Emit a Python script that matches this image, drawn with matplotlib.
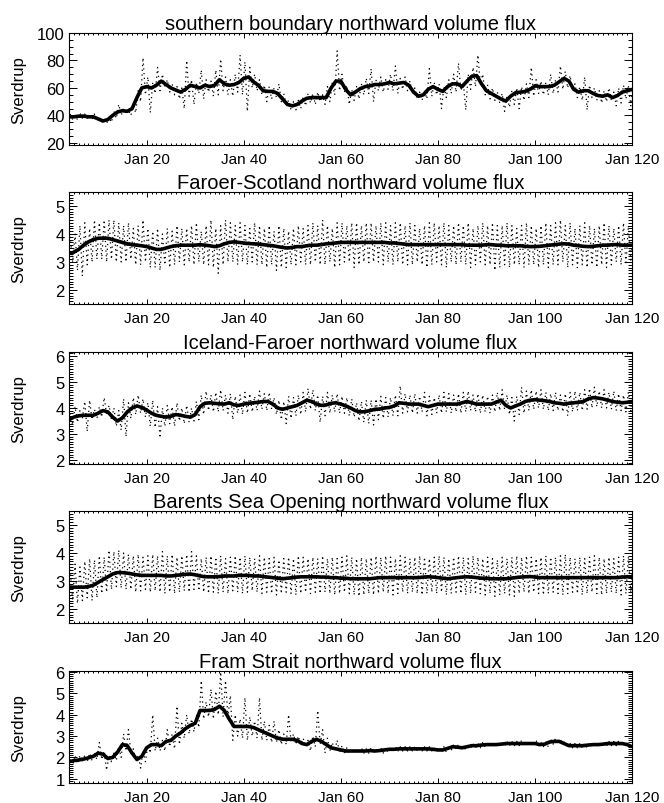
import numpy as np
import matplotlib
matplotlib.use('Agg')
import matplotlib.pyplot as plt
from matplotlib.ticker import MultipleLocator

plt.rcParams['font.family'] = ['Liberation Sans', 'DejaVu Sans']

# yearly values from year 4 to year 120
first_year = 4

titles = ['southern boundary northward volume flux',
          'Faroer-Scotland northward volume flux',
          'Iceland-Faroer northward volume flux',
          'Barents Sea Opening northward volume flux',
          'Fram Strait northward volume flux']

xtick_vals = [20, 40, 60, 80, 100, 120]
xtick_labels = ['Jan 20', 'Jan 40', 'Jan 60', 'Jan 80', 'Jan 100', 'Jan 120']

# --- southern boundary
sb_smooth = [39, 39, 39.5, 39.5, 39, 39, 37.5, 36, 37, 40,
             42.5, 43.5, 43, 45, 53, 60, 61, 60, 62, 65,
             62.5, 60, 58.5, 57, 59, 62, 61, 60, 62, 61,
             62, 66, 63, 62, 62.5, 64, 67, 68, 64.5, 62,
             58, 57.5, 57.5, 56, 52, 48, 47, 48, 50.5, 52.5,
             53, 53, 53, 53, 60, 65, 65, 59, 55, 57,
             59.5, 61, 61.5, 62.5, 62.5, 63, 64, 63, 63.5, 64,
             62, 57, 54, 55, 59, 61, 59, 57.5, 61, 63,
             63, 61, 65, 68.5, 69, 63, 58, 56, 54, 52,
             50.5, 54, 56.5, 57, 57.5, 59, 61.5, 61, 61, 61,
             62, 64.5, 67, 65, 59, 57, 58, 58, 56, 54.5,
             54, 55, 53, 54.5, 57, 58, 59]
sb_hi = [41, 40, 42, 41, 40, 41, 39, 37, 39, 43,
         48, 45, 44, 47, 58, 82, 68, 64, 75, 70,
         66, 63, 61, 60, 80, 66, 64, 73, 66, 65,
         73, 81, 68, 66, 70, 84, 79, 75, 70, 66,
         62, 61, 60, 63, 56, 51, 50, 51, 54, 56,
         56, 57, 55, 61, 64, 87, 70, 62, 59, 61,
         63, 67, 74, 66, 68, 66, 70, 76, 67, 68,
         65, 60, 57, 58, 74, 64, 63, 61, 66, 70,
         78, 64, 70, 75, 84, 70, 62, 60, 57, 56,
         54, 58, 60, 61, 63, 75, 66, 65, 64, 70,
         66, 76, 72, 69, 63, 61, 68, 62, 60, 58,
         58, 60, 57, 60, 62, 62, 63]
sb_lo = [37, 37, 38, 38, 37, 38, 35, 34, 35, 38,
         40, 41, 40, 42, 50, 55, 42, 56, 58, 60,
         57, 55, 52, 45, 54, 48, 56, 52, 57, 54,
         55, 58, 55, 54, 57, 55, 43, 60, 58, 55,
         50, 52, 53, 50, 48, 44, 44, 45, 47, 49,
         48, 50, 48, 50, 55, 58, 57, 48, 51, 52,
         55, 56, 50, 58, 57, 59, 58, 56, 59, 58,
         56, 52, 51, 52, 54, 55, 45, 53, 56, 57,
         58, 44, 59, 61, 63, 55, 52, 51, 49, 43,
         46, 48, 45, 51, 53, 54, 56, 55, 55, 56,
         57, 59, 60, 58, 53, 51, 44, 53, 51, 49,
         50, 51, 47, 49, 52, 47, 55]

# --- Faroer-Scotland
fs_smooth = [3.3, 3.35, 3.45, 3.6, 3.72, 3.8, 3.85, 3.85, 3.85, 3.8,
             3.75, 3.7, 3.65, 3.62, 3.6, 3.58, 3.55, 3.5, 3.45, 3.45,
             3.5, 3.55, 3.58, 3.6, 3.6, 3.6, 3.6, 3.62, 3.6, 3.58,
             3.55, 3.58, 3.65, 3.7, 3.72, 3.7, 3.68, 3.66, 3.65, 3.64,
             3.62, 3.6, 3.58, 3.55, 3.52, 3.5, 3.52, 3.55, 3.55, 3.58,
             3.6, 3.6, 3.62, 3.65, 3.66, 3.68, 3.7, 3.7, 3.7, 3.7,
             3.7, 3.7, 3.7, 3.7, 3.7, 3.7, 3.68, 3.68, 3.66, 3.64,
             3.62, 3.62, 3.62, 3.62, 3.62, 3.62, 3.62, 3.62, 3.62, 3.62,
             3.62, 3.62, 3.6, 3.6, 3.6, 3.6, 3.62, 3.62, 3.6, 3.6,
             3.58, 3.58, 3.58, 3.58, 3.56, 3.55, 3.55, 3.56, 3.58, 3.6,
             3.62, 3.64, 3.65, 3.64, 3.6, 3.58, 3.56, 3.55, 3.56, 3.58,
             3.6, 3.6, 3.62, 3.62, 3.6, 3.6, 3.6]
fs_hi = [3.9, 4.0, 4.3, 4.4, 4.2, 4.5, 4.4, 4.5, 4.5, 4.5,
         4.4, 4.3, 4.4, 4.2, 4.3, 4.5, 4.2, 4.1, 4.2, 4.0,
         4.2, 4.1, 4.3, 4.2, 4.2, 4.3, 4.4, 4.1, 4.3, 4.5,
         4.2, 4.3, 4.5, 4.4, 4.3, 4.4, 4.3, 4.2, 4.4, 4.3,
         4.2, 4.3, 4.1, 4.3, 4.2, 4.1, 4.2, 4.3, 4.2, 4.3,
         4.4, 4.3, 4.5, 4.3, 4.2, 4.4, 4.4, 4.3, 4.4, 4.4,
         4.3, 4.4, 4.4, 4.3, 4.4, 4.4, 4.3, 4.4, 4.4, 4.3,
         4.4, 4.3, 4.2, 4.3, 4.4, 4.4, 4.3, 4.4, 4.3, 4.3,
         4.4, 4.3, 4.4, 4.2, 4.3, 4.4, 4.3, 4.4, 4.3, 4.3,
         4.4, 4.3, 4.2, 4.3, 4.4, 4.3, 4.2, 4.3, 4.4, 4.3,
         4.4, 4.5, 4.3, 4.4, 4.2, 4.3, 4.4, 4.3, 4.2, 4.3,
         4.4, 4.3, 4.2, 4.3, 4.4, 4.3, 4.2]
fs_lo = [3.0, 2.7, 2.5, 2.9, 3.0, 3.1, 3.1, 3.0, 3.1, 3.0,
         3.0, 3.0, 3.1, 2.9, 2.9, 3.0, 2.8, 2.8, 2.7, 2.9,
         2.8, 2.9, 3.0, 2.9, 3.0, 2.9, 3.0, 2.9, 2.9, 2.8,
         2.6, 2.9, 3.0, 3.0, 2.9, 3.0, 2.9, 3.0, 2.9, 2.9,
         2.8, 2.9, 2.7, 2.8, 2.8, 2.9, 2.9, 3.0, 2.9, 2.9,
         3.0, 2.9, 2.9, 3.0, 2.8, 2.9, 3.0, 3.0, 2.8, 2.9,
         3.0, 2.9, 3.0, 3.0, 2.9, 3.0, 2.9, 3.0, 2.9, 2.9,
         2.9, 3.0, 2.9, 2.8, 2.9, 3.0, 2.9, 2.8, 3.0, 2.9,
         3.0, 2.9, 2.8, 2.9, 3.0, 2.9, 2.9, 2.7, 2.8, 2.9,
         2.8, 2.9, 2.9, 2.8, 2.9, 2.9, 2.8, 2.9, 2.8, 2.9,
         2.9, 3.0, 2.8, 2.9, 2.8, 2.9, 2.8, 2.9, 2.8, 2.9,
         2.8, 2.9, 3.0, 2.9, 2.9, 3.0, 2.9]

# --- Iceland-Faroer
if_smooth = [3.55, 3.65, 3.7, 3.72, 3.72, 3.72, 3.8, 3.9, 3.85, 3.65,
             3.5, 3.62, 3.85, 4.0, 4.08, 4.02, 3.92, 3.8, 3.72, 3.68,
             3.65, 3.68, 3.75, 3.72, 3.68, 3.65, 3.75, 4.05, 4.18, 4.2,
             4.18, 4.16, 4.15, 4.2, 4.12, 4.1, 4.15, 4.18, 4.2, 4.22,
             4.25, 4.25, 4.15, 4.0, 3.95, 4.0, 4.05, 4.1, 4.2, 4.3,
             4.25, 4.15, 4.1, 4.12, 4.18, 4.2, 4.15, 4.08, 4.0, 3.9,
             3.85, 3.86, 3.9, 3.95, 3.96, 4.0, 4.02, 4.08, 4.2, 4.18,
             4.15, 4.15, 4.15, 4.1, 4.05, 4.1, 4.15, 4.15, 4.15, 4.15,
             4.15, 4.2, 4.25, 4.2, 4.15, 4.15, 4.15, 4.15, 4.22, 4.3,
             4.1, 4.0, 4.08, 4.15, 4.25, 4.3, 4.32, 4.3, 4.28, 4.25,
             4.2, 4.18, 4.15, 4.18, 4.2, 4.22, 4.25, 4.35, 4.4, 4.38,
             4.35, 4.3, 4.25, 4.22, 4.2, 4.22, 4.25]
if_hi = [3.8, 4.05, 3.9, 4.25, 4.3, 3.95, 4.05, 4.4, 4.1, 4.0,
         3.9, 4.35, 4.2, 4.4, 4.5, 4.35, 4.2, 4.3, 4.05, 4.0,
         4.1, 4.05, 4.2, 4.0, 4.1, 4.0, 4.25, 4.5, 4.65, 4.5,
         4.6, 4.7, 4.5, 4.55, 4.45, 4.5, 4.6, 4.55, 4.45, 4.65,
         4.55, 4.6, 4.4, 4.3, 4.25, 4.45, 4.4, 4.5, 4.6, 4.75,
         4.7, 4.5, 4.45, 4.6, 4.5, 4.55, 4.45, 4.4, 4.35, 4.2,
         4.25, 4.3, 4.3, 4.35, 4.45, 4.4, 4.4, 4.5, 4.85, 4.55,
         4.5, 4.55, 4.45, 4.6, 4.45, 4.4, 4.5, 4.6, 4.55, 4.5,
         4.55, 4.6, 4.65, 4.5, 4.55, 4.5, 4.45, 4.5, 4.6, 4.7,
         4.5, 4.4, 4.45, 4.8, 4.65, 4.7, 4.65, 4.7, 4.6, 4.55,
         4.6, 4.5, 4.55, 4.6, 4.65, 4.6, 4.7, 4.75, 4.8, 4.65,
         4.7, 4.6, 4.65, 4.55, 4.5, 4.6, 4.55]
if_lo = [3.35, 3.45, 3.6, 3.1, 3.55, 3.6, 3.65, 3.75, 3.55, 3.3,
         3.15, 2.9, 3.6, 3.75, 3.8, 3.65, 3.3, 3.25, 2.85, 3.3,
         3.4, 3.3, 3.5, 3.4, 3.45, 3.5, 3.55, 3.75, 3.9, 3.85,
         3.85, 3.9, 3.8, 3.55, 3.8, 3.75, 3.8, 3.85, 3.9, 3.95,
         3.9, 3.95, 3.75, 3.55, 3.4, 3.6, 3.7, 3.75, 3.85, 3.95,
         3.9, 3.45, 3.7, 3.8, 3.85, 3.8, 3.8, 3.7, 3.65, 3.5,
         3.45, 3.4, 3.35, 3.55, 3.6, 3.65, 3.7, 3.7, 3.8, 3.85,
         3.8, 3.8, 3.85, 3.7, 3.75, 3.8, 3.8, 3.85, 3.8, 3.85,
         3.8, 3.85, 3.9, 3.85, 3.8, 3.85, 3.8, 3.85, 3.9, 3.95,
         3.75, 3.5, 3.75, 3.8, 3.9, 3.95, 4.0, 3.95, 3.9, 3.9,
         3.9, 3.85, 3.7, 3.85, 3.9, 3.9, 3.95, 4.0, 4.05, 4.0,
         4.0, 3.95, 3.9, 3.9, 3.85, 3.9, 3.95]

# --- Barents Sea Opening
bso_smooth = [2.78, 2.78, 2.78, 2.78, 2.8, 2.85, 2.95, 3.05, 3.15, 3.25,
              3.3, 3.3, 3.28, 3.25, 3.22, 3.2, 3.2, 3.2, 3.2, 3.2,
              3.18, 3.18, 3.2, 3.22, 3.24, 3.25, 3.22, 3.18, 3.15, 3.15,
              3.15, 3.16, 3.18, 3.18, 3.18, 3.2, 3.2, 3.2, 3.18, 3.18,
              3.16, 3.14, 3.12, 3.1, 3.08, 3.1, 3.12, 3.14, 3.15, 3.15,
              3.15, 3.15, 3.14, 3.14, 3.12, 3.12, 3.1, 3.1, 3.08, 3.08,
              3.08, 3.08, 3.08, 3.1, 3.12, 3.12, 3.12, 3.12, 3.12, 3.12,
              3.12, 3.12, 3.12, 3.14, 3.15, 3.14, 3.12, 3.1, 3.08, 3.1,
              3.12, 3.14, 3.15, 3.14, 3.12, 3.1, 3.1, 3.08, 3.08, 3.08,
              3.08, 3.1, 3.12, 3.14, 3.15, 3.16, 3.14, 3.12, 3.12, 3.12,
              3.12, 3.12, 3.12, 3.12, 3.12, 3.12, 3.12, 3.12, 3.12, 3.12,
              3.12, 3.12, 3.12, 3.12, 3.14, 3.15, 3.15]
bso_hi = [3.4, 3.6, 3.5, 3.7, 3.8, 3.75, 3.9, 3.85, 4.1, 4.05,
          4.1, 4.0, 3.95, 3.9, 3.95, 3.85, 3.9, 3.95, 3.9, 4.05,
          3.9, 3.95, 3.85, 3.9, 3.95, 4.05, 3.9, 3.8, 3.85, 3.9,
          3.85, 3.9, 3.8, 3.85, 3.9, 3.85, 3.9, 3.85, 3.8, 3.9,
          3.85, 3.8, 3.85, 3.75, 3.8, 3.85, 3.8, 3.9, 3.85, 3.8,
          3.85, 3.8, 3.9, 3.8, 3.85, 3.8, 3.85, 3.9, 3.85, 3.8,
          3.85, 3.8, 3.85, 3.9, 3.85, 3.9, 3.85, 3.8, 3.9, 3.85,
          3.8, 3.85, 3.9, 3.85, 3.8, 3.85, 3.9, 3.85, 3.8, 3.85,
          3.9, 3.85, 3.8, 3.9, 3.85, 3.8, 3.85, 3.8, 3.75, 3.85,
          3.8, 3.85, 3.9, 3.85, 3.9, 3.85, 3.8, 3.85, 3.9, 3.85,
          3.85, 3.9, 3.95, 3.85, 3.8, 3.85, 3.8, 3.85, 3.9, 3.85,
          3.8, 3.85, 3.8, 3.85, 3.9, 3.85, 3.8]
bso_lo = [2.3, 2.2, 2.3, 2.4, 2.3, 2.4, 2.55, 2.6, 2.7, 2.8,
          2.75, 2.7, 2.7, 2.6, 2.65, 2.7, 2.6, 2.65, 2.6, 2.55,
          2.6, 2.55, 2.6, 2.65, 2.6, 2.7, 2.65, 2.6, 2.55, 2.6,
          2.55, 2.6, 2.55, 2.65, 2.6, 2.55, 2.6, 2.65, 2.6, 2.55,
          2.6, 2.55, 2.5, 2.55, 2.6, 2.55, 2.5, 2.55, 2.6, 2.55,
          2.6, 2.55, 2.6, 2.55, 2.5, 2.55, 2.6, 2.55, 2.5, 2.45,
          2.5, 2.55, 2.5, 2.55, 2.6, 2.55, 2.5, 2.55, 2.6, 2.55,
          2.6, 2.55, 2.5, 2.55, 2.6, 2.55, 2.6, 2.5, 2.55, 2.6,
          2.55, 2.5, 2.55, 2.6, 2.55, 2.5, 2.55, 2.45, 2.5, 2.55,
          2.5, 2.45, 2.55, 2.6, 2.55, 2.6, 2.55, 2.5, 2.55, 2.6,
          2.55, 2.5, 2.55, 2.6, 2.55, 2.5, 2.55, 2.6, 2.55, 2.5,
          2.55, 2.6, 2.55, 2.5, 2.55, 2.6, 2.55]

# --- Fram Strait
fram_smooth = [1.8, 1.85, 1.88, 1.92, 1.98, 2.05, 2.2, 2.15, 1.95, 2.0,
               2.25, 2.6, 2.55, 2.2, 1.9, 2.05, 2.45, 2.6, 2.6, 2.55,
               2.75, 2.8, 3.0, 3.15, 3.35, 3.5, 3.6, 4.2, 4.2, 4.2,
               4.25, 4.4, 4.2, 3.8, 3.45, 3.45, 3.45, 3.45, 3.4, 3.3,
               3.2, 3.1, 3.0, 2.9, 2.85, 2.85, 2.85, 2.8, 2.65, 2.6,
               2.75, 2.85, 2.75, 2.6, 2.45, 2.4, 2.35, 2.3, 2.3, 2.3,
               2.3, 2.3, 2.32, 2.3, 2.32, 2.35, 2.38, 2.38, 2.4, 2.4,
               2.4, 2.4, 2.4, 2.4, 2.4, 2.38, 2.35, 2.35, 2.42, 2.5,
               2.48, 2.45, 2.5, 2.55, 2.55, 2.58, 2.6, 2.6, 2.6, 2.62,
               2.65, 2.65, 2.65, 2.65, 2.65, 2.65, 2.65, 2.6, 2.62, 2.72,
               2.75, 2.75, 2.65, 2.55, 2.55, 2.55, 2.55, 2.58, 2.6, 2.6,
               2.62, 2.65, 2.65, 2.65, 2.65, 2.6, 2.5]
fram_hi = [1.9, 2.1, 2.1, 2.1, 2.2, 2.2, 2.7, 2.3, 2.1, 2.2,
           2.5, 3.1, 3.3, 2.4, 2.1, 2.3, 2.6, 4.0, 2.9, 2.8,
           3.3, 3.1, 4.4, 3.6, 4.0, 3.8, 4.0, 5.6, 4.6, 5.2,
           5.1, 6.0, 5.6, 4.9, 4.0, 3.8, 4.8, 3.9, 3.7, 4.8,
           3.7, 3.5, 3.7, 3.3, 3.1, 4.0, 3.1, 3.0, 2.9, 2.8,
           3.0, 4.2, 3.3, 2.9, 2.7, 2.8, 2.55, 2.45, 2.4, 2.4,
           2.45, 2.4, 2.45, 2.4, 2.45, 2.45, 2.5, 2.5, 2.5, 2.5,
           2.5, 2.5, 2.45, 2.5, 2.5, 2.45, 2.45, 2.5, 2.55, 2.6,
           2.6, 2.55, 2.6, 2.65, 2.65, 2.7, 2.7, 2.7, 2.7, 2.72,
           2.75, 2.75, 2.75, 2.8, 2.75, 2.75, 2.8, 2.7, 2.72, 2.85,
           2.9, 2.85, 2.75, 2.65, 2.65, 2.65, 2.65, 2.68, 2.7, 2.7,
           2.72, 2.75, 2.75, 2.78, 2.75, 2.7, 2.6]
fram_lo = [1.6, 1.7, 1.8, 1.8, 1.85, 1.9, 1.9, 1.4, 1.8, 1.85,
           2.0, 2.3, 2.2, 1.9, 1.5, 1.8, 2.2, 2.3, 2.3, 2.3,
           2.5, 2.4, 2.6, 2.9, 3.1, 3.2, 3.4, 3.8, 3.9, 3.8,
           4.0, 3.9, 3.9, 2.8, 3.0, 2.9, 2.8, 3.0, 2.9, 2.8,
           2.8, 2.7, 2.7, 2.6, 2.6, 2.7, 2.6, 2.6, 2.5, 2.3,
           2.5, 2.6, 2.2, 2.3, 2.3, 2.2, 2.2, 2.2, 2.2, 2.2,
           2.2, 2.2, 2.2, 2.2, 2.2, 2.25, 2.28, 2.28, 2.3, 2.3,
           2.3, 2.3, 2.3, 2.3, 2.3, 2.28, 2.25, 2.25, 2.32, 2.4,
           2.38, 2.35, 2.4, 2.45, 2.45, 2.48, 2.5, 2.5, 2.5, 2.52,
           2.55, 2.55, 2.55, 2.55, 2.55, 2.55, 2.55, 2.5, 2.5, 2.62,
           2.65, 2.65, 2.55, 2.45, 2.45, 2.45, 2.45, 2.48, 2.5, 2.5,
           2.52, 2.55, 2.55, 2.55, 2.55, 2.5, 2.4]

panels = [(sb_smooth, sb_hi, sb_lo, (18.5, 100), [20, 40, 60, 80, 100], 5),
          (fs_smooth, fs_hi, fs_lo, (1.5, 5.5), [2, 3, 4, 5], 0.1),
          (if_smooth, if_hi, if_lo, (1.85, 6.15), [2, 3, 4, 5, 6], 0.1),
          (bso_smooth, bso_hi, bso_lo, (1.5, 5.5), [2, 3, 4, 5], 0.1),
          (fram_smooth, fram_hi, fram_lo, (0.8, 6.05), [1, 2, 3, 4, 5, 6], 0.1)]

W, H = 664, 804
fig = plt.figure(figsize=(W / 100, H / 100), dpi=100)
tops = [34, 193, 353, 512, 672]
ax_h = 112
left, right = 69, 632

for i, (sm, hi, lo, ylim, yt, ymin) in enumerate(panels):
    top = tops[i]
    ax = fig.add_axes([left / W, 1 - (top + ax_h) / H, (right - left) / W, ax_h / H])

    yrs = first_year + np.arange(len(sm))
    yh = first_year + np.arange(len(hi))
    yl = first_year + np.arange(len(lo))
    n = min(len(hi), len(lo))
    rx = np.column_stack([yh[:n] + 0.25, yl[:n] + 0.75]).ravel()
    ry = np.column_stack([np.array(hi[:n]), np.array(lo[:n])]).ravel()

    ax.plot(rx, ry, color='black', linewidth=0.9, linestyle=(0, (1, 2.8)))
    ax.plot(yrs, sm, color='black', linewidth=2.6, solid_capstyle='butt')

    ax.set_xlim(4, 120)
    ax.set_ylim(*ylim)
    ax.set_xticks(xtick_vals)
    ax.set_xticklabels(xtick_labels, fontsize=11)
    ax.xaxis.set_minor_locator(MultipleLocator(1))
    ax.set_yticks(yt)
    ax.set_yticklabels([str(v) for v in yt], fontsize=12)
    ax.yaxis.set_minor_locator(MultipleLocator(ymin))

    ax.tick_params(which='both', direction='in', top=True, right=True, width=0.7)
    ax.tick_params(axis='y', which='major', length=6, pad=3)
    ax.tick_params(axis='y', which='minor', length=3)
    ax.tick_params(axis='x', which='major', length=3.5, pad=5)
    ax.tick_params(axis='x', which='minor', length=1.5)
    for s in ax.spines.values():
        s.set_linewidth(0.8)

    ax.set_ylabel('Sverdrup', fontsize=12)
    ax.yaxis.set_label_coords(-0.075, 0.5)
    ax.set_title(titles[i], fontsize=14.5, pad=3)

fig.savefig('out.png', dpi=100)
plt.close(fig)
